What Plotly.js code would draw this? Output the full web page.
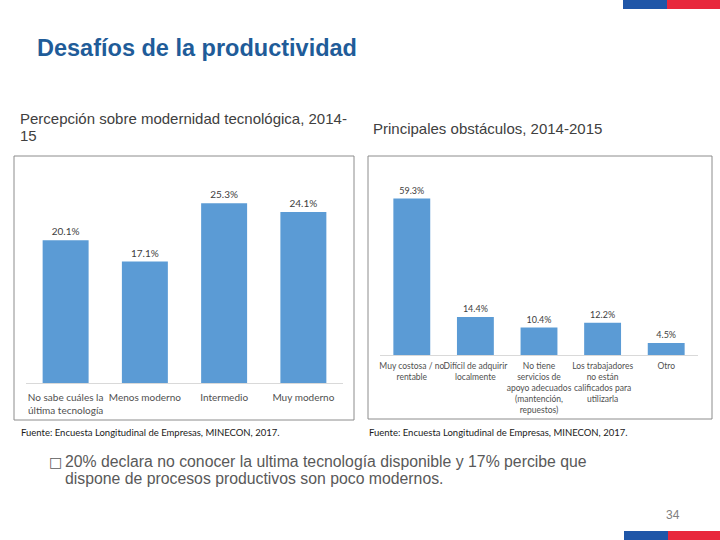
<!DOCTYPE html>
<html>
<head>
<meta charset="utf-8">
<script src="https://cdn.plot.ly/plotly-3.0.1.min.js"></script>
<style>
  html, body { margin: 0; padding: 0; background: #fff; }
  #slide { width: 720px; height: 540px; }
</style>
</head>
<body>
<div id="slide"></div>
<script>
// left chart: percepción sobre modernidad tecnológica
const modernCats = [
    "No sabe cuáles la<br>última tecnología",
    "Menos moderno",
    "Intermedio",
    "Muy moderno",
];
const modernVals = [20.1, 17.1, 25.3, 24.1];

// right chart: principales obstáculos
const obstacleCats = [
    "Muy costosa / no<br>rentable",
    "Difícil de adquirir<br>localmente",
    "No tiene<br>servicios de<br>apoyo adecuados<br>(mantención,<br>repuestos)",
    "Los trabajadores<br>no están<br>calificados para<br>utilizarla",
    "Otro",
];
const obstacleVals = [59.3, 14.4, 10.4, 12.2, 4.5];

const barColor = "#5B9BD5";
const chartFont = "Lato, 'Liberation Sans', sans-serif";
const slideFont = "'Liberation Sans', Arial, sans-serif";

// pixel -> paper helpers
const px = (x) => x / 720;
const py = (y) => 1 - y / 540;

const data = [
    {
        type: "bar",
        x: modernCats,
        y: modernVals,
        xaxis: "x",
        yaxis: "y",
        marker: { color: barColor },
        texttemplate: "%{y:.1f}%",
        textposition: "outside",
        cliponaxis: false,
        textfont: { family: chartFont, size: 10, color: "#404040" },
    },
    {
        type: "bar",
        x: obstacleCats,
        y: obstacleVals,
        xaxis: "x2",
        yaxis: "y2",
        marker: { color: barColor },
        texttemplate: "%{y:.1f}%",
        textposition: "outside",
        cliponaxis: false,
        textfont: { family: chartFont, size: 9, color: "#404040" },
    },
];

function textAt(text, x, y, size, color, family, extra) {
    return Object.assign(
        {
            text: text,
            xref: "paper",
            yref: "paper",
            x: px(x),
            y: py(y),
            xanchor: "left",
            yanchor: "middle",
            showarrow: false,
            font: { family: family || slideFont, size: size, color: color },
        },
        extra || {}
    );
}

function rectAt(x0, y0, x1, y1, style) {
    return Object.assign(
        {
            type: "rect",
            xref: "paper",
            yref: "paper",
            x0: px(x0),
            x1: px(x1),
            y0: py(y1),
            y1: py(y0),
        },
        style
    );
}

const annotations = [
    textAt("<b>Desafíos de la productividad</b>", 35, 48, 23.5, "#1F5C99"),
    textAt("Percepción sobre modernidad tecnológica, 2014-", 18, 118, 15, "#404040"),
    textAt("15", 18, 135, 15, "#404040"),
    textAt("Principales obstáculos, 2014-2015", 371, 128, 15, "#404040"),
    textAt("Fuente: Encuesta Longitudinal de Empresas, MINECON, 2017.", 19, 432, 9.5, "#1a1a1a", chartFont),
    textAt("Fuente: Encuesta Longitudinal de Empresas, MINECON, 2017.", 367, 432, 9.5, "#1a1a1a", chartFont),
    textAt("□", 47, 462, 14, "#595959", "'DejaVu Sans', sans-serif"),
    textAt("20% declara no conocer la ultima tecnología disponible y 17% percibe que", 63, 461, 15.8, "#595959"),
    textAt("dispone de procesos productivos son poco modernos.", 63, 478, 15.8, "#595959"),
    textAt("34", 664, 515, 12, "#7f7f7f"),
];

const boxStyle = { line: { color: "#8c8c8c", width: 1 }, fillcolor: "rgba(0,0,0,0)" };
const shapes = [
    rectAt(14, 156, 354, 420, boxStyle),
    rectAt(368, 156, 712, 419, boxStyle),
    rectAt(623, 0, 667, 9, { line: { width: 0 }, fillcolor: "#1F56A8" }),
    rectAt(667, 0, 720, 9, { line: { width: 0 }, fillcolor: "#E8283C" }),
    rectAt(624, 531, 668, 540, { line: { width: 0 }, fillcolor: "#1F56A8" }),
    rectAt(668, 531, 720, 540, { line: { width: 0 }, fillcolor: "#E8283C" }),
];

const catAxis = {
    type: "category",
    showgrid: false,
    zeroline: false,
    showline: true,
    linecolor: "#d9d9d9",
    linewidth: 1,
    ticks: "",
    tickangle: 0,
    fixedrange: true,
};

const layout = {
    width: 720,
    height: 540,
    margin: { l: 0, r: 0, t: 0, b: 0 },
    paper_bgcolor: "#ffffff",
    plot_bgcolor: "rgba(0,0,0,0)",
    showlegend: false,
    hovermode: false,
    bargap: 0.42,
    xaxis: Object.assign({}, catAxis, {
        domain: [px(26), px(343)],
        anchor: "y",
        ticklabelstandoff: 5,
        tickfont: { family: chartFont, size: 10, color: "#505050" },
    }),
    yaxis: {
        domain: [py(383), py(170)],
        range: [0, 30],
        visible: false,
        fixedrange: true,
    },
    xaxis2: Object.assign({}, catAxis, {
        domain: [px(380), px(698)],
        anchor: "y2",
        ticklabelstandoff: 3,
        tickfont: { family: chartFont, size: 8.5, color: "#505050" },
    }),
    yaxis2: {
        domain: [py(355), py(170)],
        range: [0, 70.1],
        visible: false,
        fixedrange: true,
    },
    annotations: annotations,
    shapes: shapes,
};

Plotly.newPlot("slide", data, layout, { displayModeBar: false, staticPlot: true });
</script>
</body>
</html>
